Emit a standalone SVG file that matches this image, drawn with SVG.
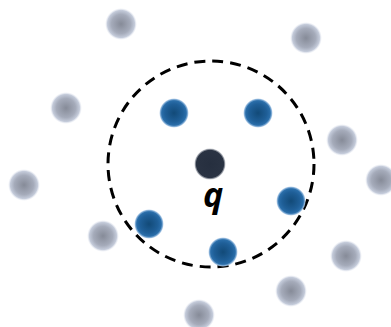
<svg xmlns="http://www.w3.org/2000/svg" width="391" height="327" viewBox="0 0 391 327">
<defs>
<radialGradient id="gGray" cx="0.5" cy="0.5" r="0.5">
<stop offset="0" stop-color="#868b98"/>
<stop offset="0.6" stop-color="#a5abba"/>
<stop offset="0.85" stop-color="#c4cbda"/>
<stop offset="1" stop-color="#e6eaf4" stop-opacity="0"/>
</radialGradient>
<radialGradient id="gBlue" cx="0.5" cy="0.5" r="0.5">
<stop offset="0" stop-color="#124a78"/>
<stop offset="0.6" stop-color="#1f5f98"/>
<stop offset="0.82" stop-color="#2a6eaa"/>
<stop offset="0.92" stop-color="#8fb6dc"/>
<stop offset="1" stop-color="#d8e6f4" stop-opacity="0"/>
</radialGradient>
<radialGradient id="gDark" cx="0.5" cy="0.5" r="0.5">
<stop offset="0" stop-color="#262f3f"/>
<stop offset="0.88" stop-color="#2a3343"/>
<stop offset="1" stop-color="#5a6272" stop-opacity="0.3"/>
</radialGradient>
</defs>
<style>
.gray{fill:url(#gGray)}
.blue{fill:url(#gBlue)}
.ring{fill:none;stroke:#000;stroke-width:3;stroke-dasharray:11 7}
.lbl{font-family:"Open Sans","Liberation Sans",sans-serif;font-weight:bold;font-style:italic;font-size:34px;fill:#000}
</style>
<g id="connectors">
<circle class="ring" cx="211" cy="164" r="103"/>
</g>
<g id="gray-nodes">
<circle id="g1" class="gray" cx="121" cy="24" r="16"/>
<circle id="g2" class="gray" cx="306" cy="38" r="16"/>
<circle id="g3" class="gray" cx="66" cy="108" r="16"/>
<circle id="g4" class="gray" cx="342" cy="140" r="16"/>
<circle id="g5" class="gray" cx="24" cy="185" r="16"/>
<circle id="g6" class="gray" cx="381" cy="180" r="16"/>
<circle id="g7" class="gray" cx="103" cy="236" r="16"/>
<circle id="g8" class="gray" cx="346" cy="256" r="16"/>
<circle id="g9" class="gray" cx="291" cy="291" r="16"/>
<circle id="g10" class="gray" cx="199" cy="315" r="16"/>
</g>
<g id="blue-nodes">
<circle id="b1" class="blue" cx="174" cy="113" r="15"/>
<circle id="b2" class="blue" cx="258" cy="113" r="15"/>
<circle id="b3" class="blue" cx="291" cy="201" r="15"/>
<circle id="b4" class="blue" cx="149" cy="224" r="15"/>
<circle id="b5" class="blue" cx="223" cy="252" r="15"/>
</g>
<g id="query">
<circle cx="210" cy="164" r="15.5" fill="url(#gDark)"/>
<text class="lbl" x="213" y="207" text-anchor="middle">q</text>
</g>
</svg>
